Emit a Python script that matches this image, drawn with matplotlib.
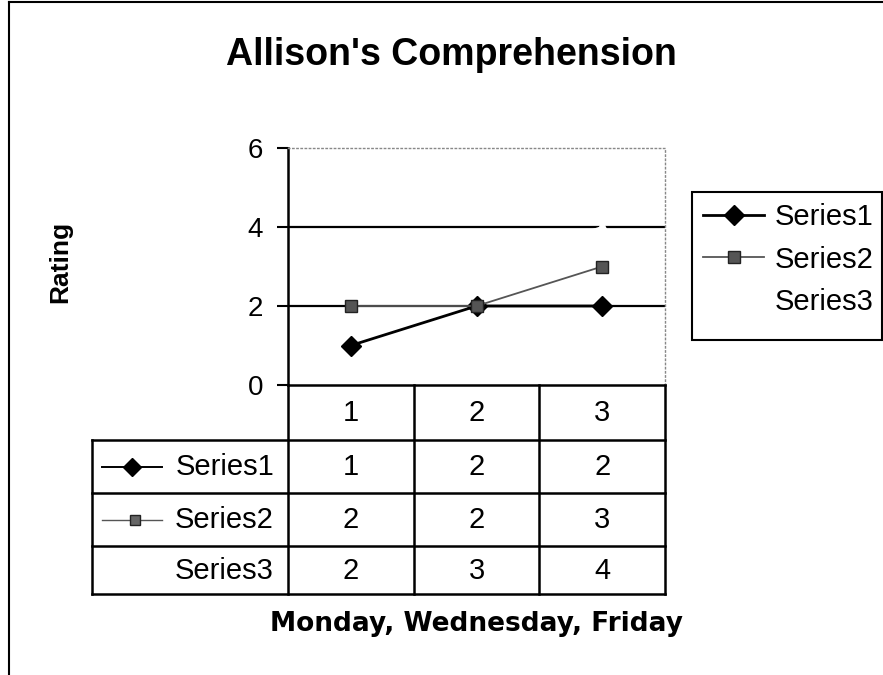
import matplotlib
matplotlib.use("Agg")
import matplotlib.pyplot as plt
import matplotlib.transforms as mtransforms
from matplotlib.lines import Line2D
from matplotlib.patches import Rectangle

plt.rcParams['font.family'] = ['Liberation Sans', 'DejaVu Sans']

# datos del grafico
days = [1, 2, 3]
series_names = ['Series1', 'Series2', 'Series3']
series1 = [1, 2, 2]
series2 = [2, 2, 3]
series3 = [2, 3, 4]
y_ticks = [0, 2, 4, 6]
title = "Allison's Comprehension"
y_label = 'Rating'
x_label = 'Monday, Wednesday, Friday'

W, H = 883, 675
fig = plt.figure(figsize=(W / 100, H / 100), dpi=100)
fig.patch.set_facecolor('white')


def fx(px):
    return px / W


def fy(py):
    return 1 - py / H


# area de dibujo (en pixeles: x 288-665, y 148-385)
ax = fig.add_axes([fx(288), fy(385), fx(665) - fx(288), fy(148) - fy(385)])
ax.set_xlim(0.5, 3.5)
ax.set_ylim(0, 6)

# lineas de division en 2 y 4
for g in y_ticks[1:-1]:
    ax.axhline(g, color='black', lw=1.6, zorder=1)

ax.plot(days, series1, color='black', lw=2.0, marker='D', markersize=10,
        markerfacecolor='black', label=series_names[0], zorder=3)
ax.plot(days, series2, color='#555555', lw=1.3, marker='s', markersize=9,
        markerfacecolor='#555555', markeredgecolor='#222222', label=series_names[1], zorder=4)
# la serie 3 sale en blanco (no se ve, solo tapa un poco las lineas)
ax.plot(days, series3, color='white', lw=1.5, marker='^', markersize=8,
        markerfacecolor='white', markeredgecolor='white', label=series_names[2], zorder=2)

ax.set_yticks(y_ticks)
ax.set_xticks([])
ax.tick_params(axis='y', direction='out', length=8, width=1.5, pad=10, labelsize=20)
ax.spines['left'].set_linewidth(1.8)
ax.spines['bottom'].set_linewidth(1.8)
for s in ['top', 'right']:
    ax.spines[s].set_linestyle((0, (1, 2)))
    ax.spines[s].set_color('#888888')
    ax.spines[s].set_linewidth(1.0)

# tabla de datos debajo del eje
blend = mtransforms.blended_transform_factory(ax.transData, ax.transAxes)
px_unit = (665 - 288) / 3.0


def ax_y(py):
    return (385 - py) / (385 - 148)


def dx(px):
    return 0.5 + (px - 288) / px_unit


row_lines = [440, 493, 546, 594]
row_centers = [467, 520, 571]
header_center = 413
x_left = dx(92)

tl = dict(color='black', lw=1.8, transform=blend, clip_on=False)
for py in row_lines:
    ax.add_line(Line2D([x_left, 3.5], [ax_y(py), ax_y(py)], **tl))
ax.add_line(Line2D([x_left, x_left], [ax_y(440), ax_y(594)], **tl))
for xb in [0.5, 1.5, 2.5, 3.5]:
    ax.add_line(Line2D([xb, xb], [0, ax_y(594)], **tl))

for d in days:
    ax.text(d, ax_y(header_center), str(d), transform=blend, ha='center', va='center', fontsize=21)

for name, vals, yc in zip(series_names, [series1, series2, series3], row_centers):
    ax.text(dx(274), ax_y(yc), name, transform=blend, ha='right', va='center', fontsize=21)
    for d, v in zip(days, vals):
        ax.text(d, ax_y(yc), str(v), transform=blend, ha='center', va='center', fontsize=21)

# claves de leyenda dentro de la tabla
ax.add_line(Line2D([dx(102), dx(162)], [ax_y(467)] * 2, color='black', lw=1.4,
                   transform=blend, clip_on=False))
ax.add_line(Line2D([dx(132)], [ax_y(467)], marker='D', markersize=9, color='black',
                   transform=blend, clip_on=False))
ax.add_line(Line2D([dx(102), dx(162)], [ax_y(520)] * 2, color='#555555', lw=1.0,
                   transform=blend, clip_on=False))
ax.add_line(Line2D([dx(135)], [ax_y(520)], marker='s', markersize=7, markerfacecolor='#666666',
                   markeredgecolor='#222222', color='#555555', transform=blend, clip_on=False))

# leyenda (el marco se dibuja aparte para que tenga el tamaño del original)
leg = ax.legend(loc='upper left', bbox_to_anchor=(fx(692), fy(192)),
                bbox_transform=fig.transFigure, fontsize=21, frameon=False,
                handlelength=2.1, handletextpad=0.35, labelspacing=0.5, borderpad=0.38,
                borderaxespad=0)
fig.add_artist(Rectangle((fx(692), fy(340)), fx(882) - fx(692), fy(192) - fy(340),
                         fill=False, edgecolor='black', lw=1.5, transform=fig.transFigure))

# textos
fig.text(fx(451), fy(65), title, ha='center', va='baseline', fontsize=27, fontweight='bold')
fig.text(fx(60), fy(262), y_label, ha='center', va='center', rotation=90, fontsize=19, fontweight='bold')
fig.text(fx(476), fy(631), x_label, ha='center', va='baseline', fontsize=19, fontweight='bold',
         family='DejaVu Sans')

# marco exterior del grafico
fig.add_artist(Line2D([fx(9), fx(9)], [0, fy(2)], color='black', lw=1.5, transform=fig.transFigure))
fig.add_artist(Line2D([fx(9), 1], [fy(2), fy(2)], color='black', lw=1.5, transform=fig.transFigure))

fig.savefig('out.png', dpi=100)
